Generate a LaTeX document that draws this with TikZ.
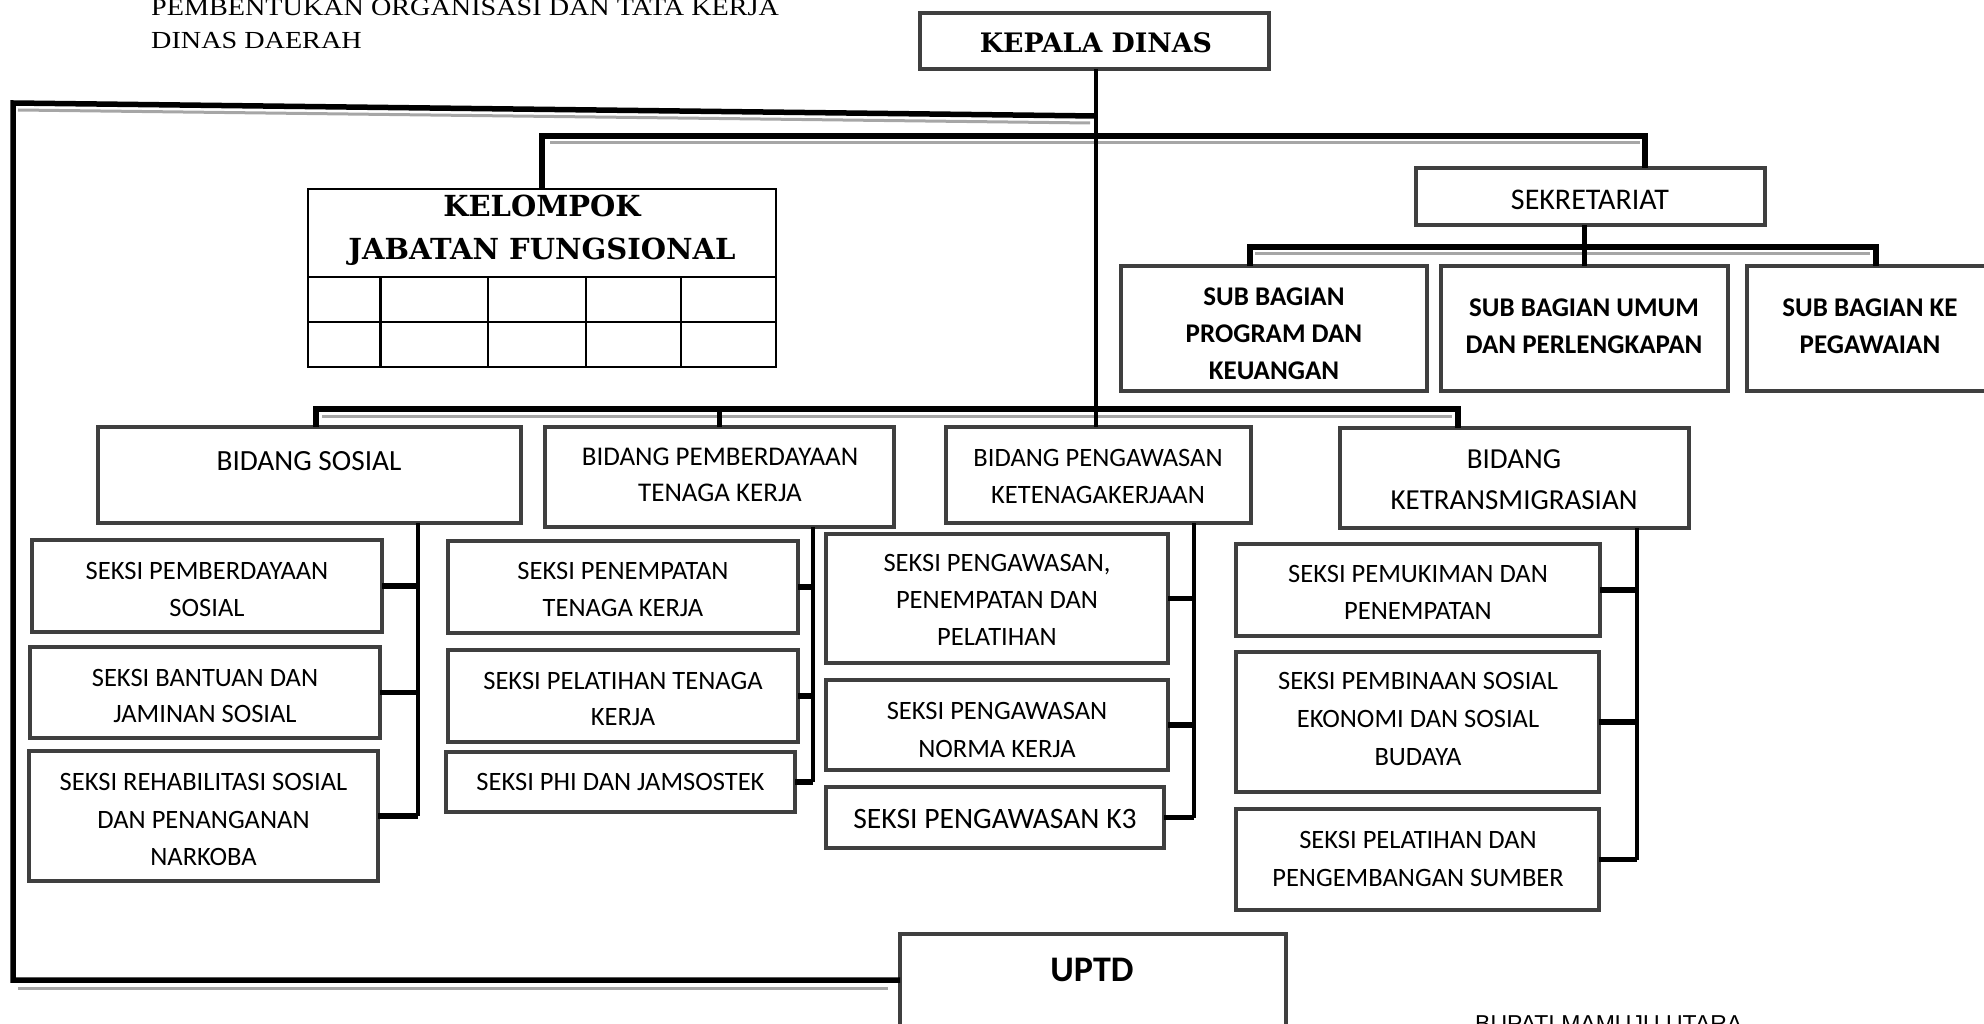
\documentclass[tikz,border=0pt]{standalone}
\usepackage{fontspec}
\setmainfont{Carlito}
\newfontfamily\serifb{DejaVu Serif}
\newfontfamily\seriflt{Liberation Serif}
\newfontfamily\arialf{Liberation Sans}
\usetikzlibrary{fit}
\definecolor{boxgray}{HTML}{3F3F3F}
\begin{document}
\begin{tikzpicture}[x=1pt,y=-1pt,
  boxst/.style={draw=boxgray, line width=4pt, inner sep=0pt, outer sep=0pt, fill=white},
  tblst/.style={draw=black, line width=2.2pt, inner sep=0pt, outer sep=0pt},
  conn/.style={draw=black, line width=5.5pt},
  shade/.style={draw=black!35, line width=3pt},
  vline/.style={draw=black, line width=4pt},
  stub/.style={draw=black, line width=5.5pt},
  txt/.style={align=center, inner sep=0pt, font=\fontsize{26.5}{36.5}\selectfont},
  txtb/.style={align=center, inner sep=0pt, font=\fontsize{27}{37}\selectfont\bfseries},
]
\useasboundingbox (0,0) rectangle (1984,1024);
\clip (0,0) rectangle (1984,1024);

% title
\node[anchor=base west, inner sep=0pt] (t1) at (151,16) {\scalebox{1.15}[1]{\seriflt\fontsize{24.5}{30}\selectfont PEMBENTUKAN ORGANISASI DAN TATA KERJA}};
\node[anchor=base west, inner sep=0pt] (t2) at (151,49) {\scalebox{1.15}[1]{\seriflt\fontsize{24.5}{30}\selectfont DINAS DAERAH}};

% coordinates
\coordinate (j1) at (1096,116);
\coordinate (tl) at (13,103);
\coordinate (bl) at (13,980);
\coordinate (j3) at (1645,136);
\coordinate (sbl) at (1250,247);
\coordinate (sbr) at (1876,247);
\coordinate (bb1) at (316,409);
\coordinate (bb2) at (1458,409);

% shadows of the long lines
\draw[shade] (1090,123) -- (18,110);
\draw[shade] (550,143) -- (1640,143);
\draw[shade] (1255,254) -- (1870,254);
\draw[shade] (322,416) -- (1452,416);
\draw[shade] (18,988) -- (888,988);

% boxes
\node[boxst, fit={(920,13) (1269,69)}] (kd) {};
\node[tblst, fit={(308,189) (776,367)}] (kjf) {};
\node[boxst, fit={(1416,168) (1765,225)}] (sek) {};
\node[boxst, fit={(1121,266) (1427,391)}] (sb1) {};
\node[boxst, fit={(1441,266) (1728,391)}] (sb2) {};
\node[boxst, fit={(1747,266) (2000,391)}] (sb3) {};
\node[boxst, fit={(98,427) (521,523)}] (bs) {};
\node[boxst, fit={(545,427) (894,527)}] (bpe) {};
\node[boxst, fit={(946,427) (1251,523)}] (bpg) {};
\node[boxst, fit={(1340,428) (1689,528)}] (bkt) {};
\node[boxst, fit={(32,540) (382,632)}] (s11) {};
\node[boxst, fit={(30,647) (380,738)}] (s12) {};
\node[boxst, fit={(29,751) (378,881)}] (s13) {};
\node[boxst, fit={(448,541) (798,633)}] (s21) {};
\node[boxst, fit={(448,650) (798,742)}] (s22) {};
\node[boxst, fit={(446,752) (795,812)}] (s23) {};
\node[boxst, fit={(826,534) (1168,663)}] (s31) {};
\node[boxst, fit={(826,680) (1168,770)}] (s32) {};
\node[boxst, fit={(826,787) (1164,848)}] (s33) {};
\node[boxst, fit={(1236,544) (1600,636)}] (s41) {};
\node[boxst, fit={(1236,652) (1599,792)}] (s42) {};
\node[boxst, fit={(1236,809) (1599,910)}] (s43) {};
\node[boxst, fit={(900,934) (1286,1040)}] (up) {};

% table grid of kelompok jabatan fungsional
\draw[line width=2.2pt] (kjf.west |- 0,277) -- (kjf.east |- 0,277);
\draw[line width=2.2pt] (kjf.west |- 0,322) -- (kjf.east |- 0,322);
\foreach \cx in {380.5,488,586,681} \draw[line width=2.2pt] (\cx,277) -- (\cx,367);

% texts
\node[inner sep=0pt, font=\serifb\bfseries\fontsize{26.8}{30}\selectfont] (kdt) at (1096,43) {KEPALA DINAS};
\node[inner sep=0pt, align=center, font=\serifb\bfseries\fontsize{29}{43}\selectfont] (kjft) at (542,230.5) {KELOMPOK\\JABATAN FUNGSIONAL};
\node[txt, font=\fontsize{30}{36}\selectfont] (sekt) at (1590,200) {SEKRETARIAT};
\node[txtb] (sb1t) at (1274,333.5) {SUB BAGIAN\\PROGRAM DAN\\KEUANGAN};
\node[txtb] (sb2t) at (1584,326.5) {SUB BAGIAN UMUM\\DAN PERLENGKAPAN};
\node[txtb] (sb3t) at (1870,326.5) {SUB BAGIAN KE\\PEGAWAIAN};
\node[txt, font=\fontsize{29.3}{36}\selectfont] (bst) at (309,461) {BIDANG SOSIAL};
\node[txt, font=\fontsize{27}{36.5}\selectfont] (bpet) at (720,475) {BIDANG PEMBERDAYAAN\\TENAGA KERJA};
\node[txt] (bpgt) at (1098,476.5) {BIDANG PENGAWASAN\\KETENAGAKERJAAN};
\node[txt, font=\fontsize{29}{41}\selectfont] (bktt) at (1514,480) {BIDANG\\KETRANSMIGRASIAN};
\node[txt] (s11t) at (207,589.5) {SEKSI PEMBERDAYAAN\\SOSIAL};
\node[txt] (s12t) at (205,696) {SEKSI BANTUAN DAN\\JAMINAN SOSIAL};
\node[txt, font=\fontsize{26.5}{37.5}\selectfont] (s13t) at (203.5,819.5) {SEKSI REHABILITASI SOSIAL\\DAN PENANGANAN\\NARKOBA};
\node[txt] (s21t) at (623,589.5) {SEKSI PENEMPATAN\\TENAGA KERJA};
\node[txt] (s22t) at (623,699) {SEKSI PELATIHAN TENAGA\\KERJA};
\node[txt] (s23t) at (620.5,782) {SEKSI PHI DAN JAMSOSTEK};
\node[txt, font=\fontsize{26.5}{37}\selectfont] (s31t) at (997,599.5) {SEKSI PENGAWASAN,\\PENEMPATAN DAN\\PELATIHAN};
\node[txt, font=\fontsize{26.5}{38}\selectfont] (s32t) at (997,729.5) {SEKSI PENGAWASAN\\NORMA KERJA};
\node[txt, font=\fontsize{29.6}{36}\selectfont] (s33t) at (995,819) {SEKSI PENGAWASAN K3};
\node[txt, font=\fontsize{26.5}{37.5}\selectfont] (s41t) at (1418,592.5) {SEKSI PEMUKIMAN DAN\\PENEMPATAN};
\node[txt, font=\fontsize{26.5}{38}\selectfont] (s42t) at (1418,719) {SEKSI PEMBINAAN SOSIAL\\EKONOMI DAN SOSIAL\\BUDAYA};
\node[txt, font=\fontsize{26.5}{37.5}\selectfont] (s43t) at (1418,859) {SEKSI PELATIHAN DAN\\PENGEMBANGAN SUMBER};
\node[inner sep=0pt, font=\fontsize{36}{40}\selectfont\bfseries] (upt) at (1092,970) {UPTD};
\node[anchor=base west, inner sep=0pt, font=\arialf\fontsize{23}{28}\selectfont] (bup) at (1475,1031) {BUPATI MAMUJU UTARA};

% connector coordinates for seksi columns
\coordinate (vS) at (418,523);
\coordinate (vP) at (813,527);
\coordinate (vG) at (1194,523);
\coordinate (vK) at (1637,528);

% main connectors
\draw[vline] (kd.south -| j1) -- (j1 |- bpg.north);
\draw[conn] (j1) -- (tl) -- (bl) -- (bl -| up.west);
\draw[conn] (kjf.north) |- (j3) -- (j3 |- sek.north);
\draw[conn] (sb2.north |- sek.south) -- (sb2.north);
\draw[conn] (sb1.north -| sbl) -- (sbl) -- (sbr) -- (sbr |- sb3.north);
\draw[conn] (bs.north -| bb1) -- (bb1) -- (bb2) -- (bb2 |- bkt.north);
\draw[conn] (bpe.north) -- (bpe.north |- bb1);

% seksi connectors
\draw[vline] (vS) -- (vS |- s13.east);
\foreach \s in {s11,s12,s13} \draw[stub] (\s.east) -- (\s.east -| vS);
\draw[vline] (vP) -- (vP |- s23.east);
\foreach \s in {s21,s22,s23} \draw[stub] (\s.east) -- (\s.east -| vP);
\draw[vline] (vG) -- (vG |- s33.east);
\foreach \s in {s31,s32,s33} \draw[stub] (\s.east) -- (\s.east -| vG);
\draw[vline] (vK) -- (vK |- s43.east);
\foreach \s in {s41,s42,s43} \draw[stub] (\s.east) -- (\s.east -| vK);
\end{tikzpicture}
\end{document}
